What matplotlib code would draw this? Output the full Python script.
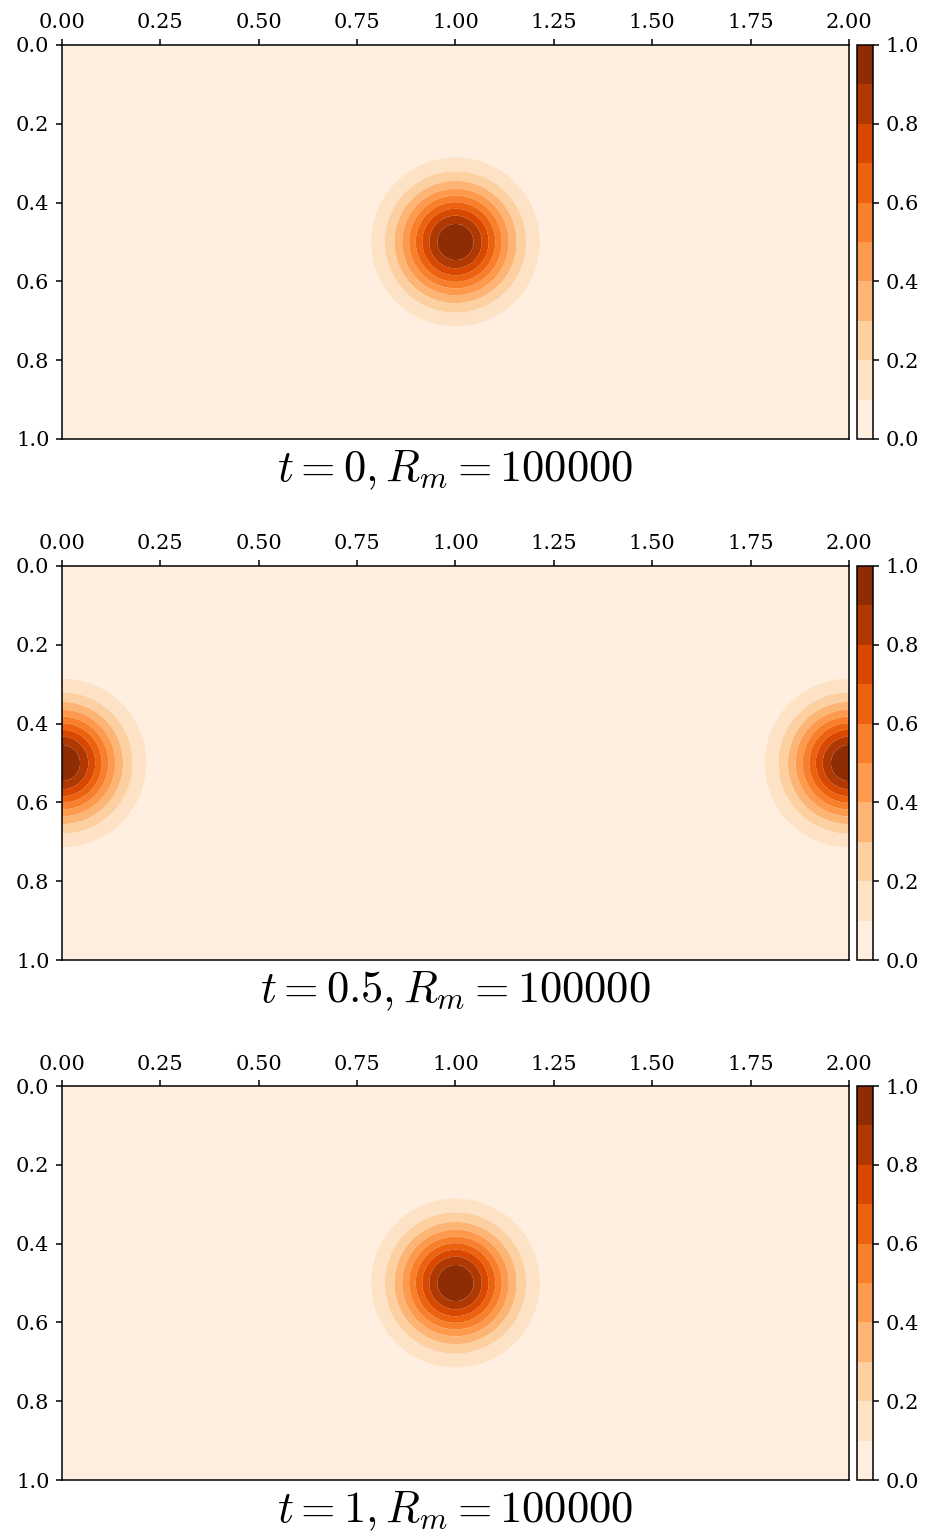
import matplotlib
matplotlib.use("Agg")
import matplotlib.pyplot as plt
import numpy as np

plt.rcParams['font.family'] = 'DejaVu Serif'
plt.rcParams['mathtext.fontset'] = 'cm'
plt.rcParams['axes.linewidth'] = 1.1

# pulse state at each time: centre of the gaussian blob (periodic in x)
times = ['0', '0.5', '1']
centres_x = [1.0, 2.0, 1.0]
centre_y = 0.5
width = 0.1
amplitude = 1.0
Rm = 100000

Lx, Ly = 2.0, 1.0
levels = np.linspace(0, 1, 11)
x = np.linspace(0, Lx, 401)
y = np.linspace(0, Ly, 201)
X, Y = np.meshgrid(x, y)

W, H = 928, 1537
fig = plt.figure(figsize=(W / 100, H / 100), dpi=100)

tops = [45, 566, 1086]
left, right = 62, 849
ax_h = 394

for i, top in enumerate(tops):
    ax = fig.add_axes((left / W, (H - top - ax_h) / H, (right - left) / W, ax_h / H))
    cax = fig.add_axes((857 / W, (H - top - ax_h) / H, 16 / W, ax_h / H))

    dx = np.abs(X - centres_x[i])
    dx = np.minimum(dx, Lx - dx)
    B = amplitude * np.exp(-(dx ** 2 + (Y - centre_y) ** 2) / (2 * width ** 2))

    cs = ax.contourf(X, Y, B, levels=levels, cmap='Oranges', antialiased=True)
    ax.set_xlim(0, Lx)
    ax.set_ylim(Ly, 0)
    ax.xaxis.tick_top()
    ax.xaxis.set_label_position('bottom')
    ax.set_xticks(np.arange(0, 2.01, 0.25))
    ax.set_yticks(np.arange(0, 1.01, 0.2))
    ax.xaxis.set_major_formatter(matplotlib.ticker.FormatStrFormatter('%.2f'))
    ax.yaxis.set_major_formatter(matplotlib.ticker.FormatStrFormatter('%.1f'))
    ax.tick_params(labelsize=15, length=4.5, width=1.1, pad=4.5)
    ax.set_xlabel(r'$t=%s, R_m=%d$' % (times[i], Rm), fontsize=32, labelpad=7)

    cb = fig.colorbar(cs, cax=cax)
    cb.outline.set_linewidth(1.1)
    cb.set_ticks(np.arange(0, 1.01, 0.2))
    cb.ax.yaxis.set_major_formatter(matplotlib.ticker.FormatStrFormatter('%.1f'))
    cb.ax.tick_params(labelsize=15, length=4.5, width=1.1, pad=4.5)

fig.savefig('out.png', dpi=100)
